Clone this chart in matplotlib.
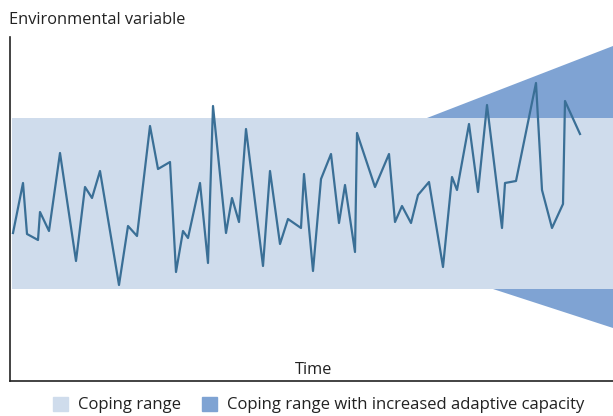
import matplotlib.pyplot as plt
from matplotlib.patches import Patch

# time positions and environmental variable values
time = [3, 13, 17, 28, 30, 39, 50, 66, 75, 82, 90, 109, 118, 127, 140, 148, 160, 166,
        173, 178, 190, 198, 203, 216, 222, 229, 236, 253, 260, 270, 278, 291, 294, 303,
        311, 321, 329, 335, 345, 347, 365, 379, 385, 392, 401, 408, 419, 433, 442, 447,
        459, 468, 477, 492, 495, 506, 526, 532, 542, 553, 555, 570]
value = [148, 198, 147, 141, 169, 150, 228, 120, 194, 183, 210, 96, 155, 145, 255, 212,
         219, 109, 150, 143, 198, 118, 275, 148, 183, 159, 252, 115, 210, 137, 162, 153,
         207, 110, 202, 227, 158, 196, 129, 248, 194, 227, 159, 175, 158, 186, 199, 114,
         204, 191, 257, 189, 276, 153, 198, 200, 298, 191, 153, 177, 280, 247]

band_low, band_high = 92, 263
# widening of the coping range with increased adaptive capacity
top_start, top_end = 417, 335
bottom_start, bottom_end = 483, 53
t_end = 603

light = '#cfdcec'
dark = '#7fa3d3'
line_color = '#3a6f96'

plt.rcParams['font.family'] = ['Open Sans', 'DejaVu Sans']

fig = plt.figure(figsize=(6.13, 4.16), dpi=100)
ax = fig.add_axes([10 / 613, 35 / 416, 603 / 613, 344 / 416])

ax.fill_between([2, t_end], band_low, band_high, color=light, lw=0)
ax.fill([top_start, t_end, t_end], [band_high, top_end, band_high], color=dark, lw=0)
ax.fill([bottom_start, t_end, t_end], [band_low, bottom_end, band_low], color=dark, lw=0)
ax.plot(time, value, color=line_color, lw=1.6)

ax.set_xlim(0, t_end)
ax.set_ylim(0, 344)
ax.set_xticks([])
ax.set_yticks([])
for s in ['top', 'right']:
    ax.spines[s].set_visible(False)
for s in ['left', 'bottom']:
    ax.spines[s].set_color('#222222')
    ax.spines[s].set_linewidth(1.2)

fig.text(9 / 613, 1 - 20 / 416, 'Environmental variable', fontsize=11.8,
         color='#222222', va='center', ha='left')
ax.text(0.504, 0.033, 'Time', transform=ax.transAxes, fontsize=11.8,
        color='#222222', ha='center', va='center')

handles = [Patch(color=light, label='Coping range'),
           Patch(color=dark, label='Coping range with increased adaptive capacity')]
fig.legend(handles=handles, loc='center', bbox_to_anchor=(0.52, 1 - 405 / 416), ncol=2,
           frameon=False, fontsize=12, handlelength=0.9, handleheight=0.9,
           handletextpad=0.6, columnspacing=1.3, labelcolor='#222222',
           borderpad=0.2)

fig.savefig('out.png', dpi=100)
